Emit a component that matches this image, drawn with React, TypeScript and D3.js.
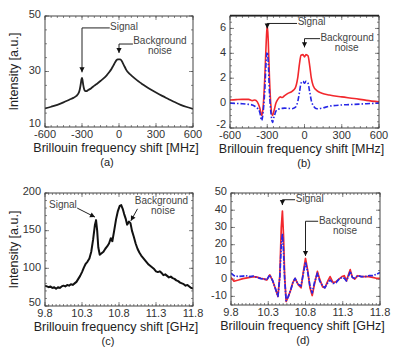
import * as d3 from "d3";

const FONT = "'Liberation Sans', Arial, Helvetica, sans-serif";

// (a) raw spectrum, MHz offset
const aFreq = [-600, -550, -500, -450, -400, -370, -345, -330, -318, -310, -304, -300, -296, -290, -283, -275, -265, -250, -225, -200, -175, -150, -125, -100, -80, -60, -45, -30, -20, -10, 0, 10, 20, 30, 45, 60, 80, 100, 125, 150, 175, 200, 250, 300, 350, 400, 450, 500, 550, 600];
const aIntensity = [16.7, 17.3, 18.0, 18.9, 19.9, 20.5, 21.2, 22.0, 23.5, 25.5, 27.2, 27.7, 27.0, 25.2, 23.7, 23.0, 22.9, 23.3, 24.0, 24.9, 25.7, 26.6, 27.5, 28.6, 29.7, 31.0, 32.2, 33.4, 34.1, 34.4, 34.4, 34.4, 34.0, 33.1, 31.8, 30.5, 29.4, 28.6, 27.6, 26.7, 25.9, 25.1, 23.7, 22.4, 21.2, 20.1, 19.0, 18.0, 17.2, 16.5];

// (b) processed spectra, MHz offset
const bFreq = [-600, -550, -500, -450, -420, -400, -380, -360, -345, -335, -320, -308, -300, -292, -282, -270, -258, -245, -230, -215, -195, -180, -160, -130, -100, -75, -55, -40, -28, -12, 0, 12, 28, 42, 55, 70, 100, 140, 200, 300, 400, 500, 600];
const bRed = [0.25, 0.28, 0.3, 0.3, 0.2, 0.25, 0.1, -0.4, -1.0, -0.5, 2.0, 5.0, 6.3, 5.0, 2.0, -0.3, -1.0, -0.6, 0.0, 0.3, 0.5, 0.45, 0.6, 0.8, 0.95, 1.2, 2.0, 3.2, 3.85, 3.9, 3.7, 3.9, 3.8, 3.0, 2.0, 1.4, 1.0, 0.8, 0.65, 0.5, 0.37, 0.22, 0.1];
const bBlue = [0.0, -0.03, -0.05, -0.1, -0.15, -0.25, -0.4, -0.75, -1.4, -0.9, 1.0, 3.5, 4.1, 3.3, 0.8, -0.8, -1.55, -1.1, -0.65, -0.5, -0.45, -0.42, -0.4, -0.42, -0.45, -0.35, 0.1, 0.9, 1.6, 1.75, 1.6, 1.75, 1.6, 0.9, 0.2, -0.2, -0.45, -0.4, -0.25, -0.15, -0.1, -0.05, 0.0];

// (c) raw spectrum, GHz
const cFreq = [9.8, 9.825, 9.85, 9.875, 9.9, 9.925, 9.95, 9.975, 10.0, 10.025, 10.05, 10.075, 10.1, 10.125, 10.15, 10.175, 10.2, 10.225, 10.25, 10.275, 10.3, 10.325, 10.35, 10.375, 10.4, 10.425, 10.45, 10.475, 10.49, 10.505, 10.52, 10.54, 10.565, 10.59, 10.615, 10.64, 10.665, 10.69, 10.71, 10.735, 10.76, 10.785, 10.81, 10.83, 10.85, 10.87, 10.89, 10.91, 10.935, 10.955, 10.975, 11.0, 11.025, 11.05, 11.075, 11.1, 11.125, 11.15, 11.175, 11.2, 11.225, 11.25, 11.275, 11.3, 11.325, 11.35, 11.375, 11.4, 11.425, 11.45, 11.475, 11.5, 11.525, 11.55, 11.575, 11.6, 11.625, 11.65, 11.675, 11.7, 11.725, 11.75, 11.775, 11.8];
const cIntensity = [77, 76, 75, 76, 74, 75, 73, 75, 74, 76, 77, 76, 78, 77, 79, 78, 80, 82, 86, 90, 95, 101, 106, 109, 113, 122, 138, 158, 164, 150, 128, 118, 120, 122, 126, 129, 133, 140, 136, 150, 165, 176, 183, 184, 179, 172, 166, 158, 162, 160, 150, 142, 133, 126, 121, 117, 114, 111, 108, 105, 103, 101, 99, 96, 95, 96, 94, 91, 92, 90, 88, 89, 87, 86, 84, 83, 81, 80, 79, 77, 78, 76, 74, 73];

// (d) processed spectra, GHz
const dFreq = [9.8, 9.84, 9.9, 9.96, 10.0, 10.05, 10.1, 10.15, 10.2, 10.25, 10.28, 10.32, 10.36, 10.4, 10.43, 10.455, 10.475, 10.49, 10.505, 10.52, 10.54, 10.57, 10.6, 10.63, 10.66, 10.7, 10.74, 10.77, 10.8, 10.83, 10.86, 10.89, 10.92, 10.96, 10.99, 11.03, 11.06, 11.1, 11.13, 11.17, 11.21, 11.25, 11.29, 11.32, 11.35, 11.38, 11.4, 11.43, 11.46, 11.5, 11.55, 11.6, 11.65, 11.7, 11.75, 11.8];
const dRed = [1.0, -1.2, -0.5, 0.3, 0.6, 1.0, 1.5, 1.2, 0.5, 0.0, -0.5, 2.5, -1.0, -6, -10, 2, 30, 39.5, 25, 2, -13, -10, -6.5, -2, 0.5, -3, -5, 4, 12, 5, -5, -9.5, -3, 4.5, 0, -4.5, -5, -1, 1.5, -2, -1.5, 0, 1.5, 2.0, -1, 3, 5.5, 1, 0, 2, 1.5, 1.5, 1.5, 1, 0.5, 0.5];
const dBlue = [3.5, 2.0, 1.5, 1.8, 2.0, 1.5, 1.8, 1.0, 0.3, 0.0, -0.5, 2.5, -1.0, -6, -10, 1, 20, 26.5, 16, 0, -12.5, -10, -6.5, -2, 0.5, -3, -4, 3, 10, 4, -4, -8, -2, 3.5, -1, -4, -5, -2, -0.5, -2.5, -2, 0, 1, 0.5, -1, 2, 4.5, 1, 0.5, 2, 1.5, 1.5, 2, 2, 2.8, 3.8];

const mhzTicks = [-600, -300, 0, 300, 600];
const ghzTicks = [9.8, 10.3, 10.8, 11.3, 11.8];
const aYTicks = [10, 30, 50];
const bYTicks = [-2, 0, 2, 4, 6];
const cYTicks = [50, 100, 150, 200];
const dYTicks = [-10, 0, 10, 20, 30, 40, 50];

const RED = "#f2282d";
const BLUE = "#2626e6";

type Series = { x: number[]; y: number[]; color: string; width: number; dash?: string; smooth?: boolean };
type Label = { t: string; x: number; y: number; anchor: "start" | "middle" | "end" };
type Note = { path: [number, number][]; texts: Label[] };

interface PanelProps {
  id: string;
  box: { left: number; right: number; top: number; bottom: number };
  xDomain: [number, number];
  yDomain: [number, number];
  xTicks: number[];
  yTicks: number[];
  xMinor: number;
  yMinor: number;
  series: Series[];
  notes: Note[];
  xTitle: string;
  label: string;
  labelX: number;
  yTitle?: boolean;
  thickTop?: boolean;
}

function Panel(p: PanelProps) {
  const { box } = p;
  const x = d3.scaleLinear().domain(p.xDomain).range([box.left, box.right]);
  const y = d3.scaleLinear().domain(p.yDomain).range([box.bottom, box.top]);

  const nx = Math.round((p.xDomain[1] - p.xDomain[0]) / p.xMinor);
  const ny = Math.round((p.yDomain[1] - p.yDomain[0]) / p.yMinor);
  const minorX = d3.range(nx + 1).map((i) => p.xDomain[0] + i * p.xMinor);
  const minorY = d3.range(ny + 1).map((i) => p.yDomain[0] + i * p.yMinor);

  const fmt = (v: number) => (Number.isInteger(v) ? String(v) : v.toFixed(1));

  return (
    <g fontFamily={FONT}>
      <defs>
        <clipPath id={`clip-${p.id}`}>
          <rect x={box.left} y={box.top} width={box.right - box.left} height={box.bottom - box.top} />
        </clipPath>
      </defs>

      {/* minor ticks, inward on all sides */}
      <g stroke="#555" strokeWidth={0.7}>
        {minorX.map((v, i) => (
          <g key={`mx${i}`}>
            <line x1={x(v)} x2={x(v)} y1={box.bottom} y2={box.bottom - 2} />
            <line x1={x(v)} x2={x(v)} y1={box.top} y2={box.top + 2} />
          </g>
        ))}
        {minorY.map((v, i) => (
          <g key={`my${i}`}>
            <line y1={y(v)} y2={y(v)} x1={box.left} x2={box.left + 2} />
            <line y1={y(v)} y2={y(v)} x1={box.right} x2={box.right - 2} />
          </g>
        ))}
        {p.xTicks.map((v, i) => (
          <g key={`tx${i}`}>
            <line x1={x(v)} x2={x(v)} y1={box.bottom} y2={box.bottom - 4} />
            <line x1={x(v)} x2={x(v)} y1={box.top} y2={box.top + 4} />
          </g>
        ))}
        {p.yTicks.map((v, i) => (
          <g key={`ty${i}`}>
            <line y1={y(v)} y2={y(v)} x1={box.left} x2={box.left + 4} />
            <line y1={y(v)} y2={y(v)} x1={box.right} x2={box.right - 4} />
          </g>
        ))}
      </g>

      <g clipPath={`url(#clip-${p.id})`}>
        {p.series.map((s, i) => {
          const line = d3
            .line<number>()
            .x((_, j) => x(s.x[j]))
            .y((d) => y(d))
            .curve(s.smooth ? d3.curveMonotoneX : d3.curveLinear);
          return (
            <path
              key={i}
              d={line(s.y) ?? ""}
              fill="none"
              stroke={s.color}
              strokeWidth={s.width}
              strokeDasharray={s.dash}
              strokeLinejoin="round"
            />
          );
        })}
      </g>

      <rect
        x={box.left}
        y={box.top}
        width={box.right - box.left}
        height={box.bottom - box.top}
        fill="none"
        stroke="#444"
        strokeWidth={1}
      />
      {p.thickTop && (
        <line x1={box.left} x2={box.right} y1={box.top - 0.5} y2={box.top - 0.5} stroke="#222" strokeWidth={1.6} />
      )}

      {/* annotations */}
      {p.notes.map((n, i) => {
        const pts = n.path.map(([a, b]) => [x(a), y(b)] as [number, number]);
        const tip = pts[pts.length - 1];
        const prev = pts[pts.length - 2];
        const ang = Math.atan2(tip[1] - prev[1], tip[0] - prev[0]);
        const L = 5;
        const W = 2.6;
        const bx = tip[0] - L * Math.cos(ang);
        const by = tip[1] - L * Math.sin(ang);
        const head = [
          tip,
          [bx + W * Math.sin(ang), by - W * Math.cos(ang)],
          [bx - W * Math.sin(ang), by + W * Math.cos(ang)],
        ];
        return (
          <g key={`n${i}`}>
            <path d={d3.line()(pts) ?? ""} fill="none" stroke="#222" strokeWidth={1} />
            <path d={`M${head.map((q) => q.join(",")).join("L")}Z`} fill="#111" />
            {n.texts.map((t, k) => (
              <text
                key={k}
                x={x(t.x)}
                y={y(t.y)}
                textAnchor={t.anchor}
                dominantBaseline="middle"
                fontSize={10}
                fill="#444"
              >
                {t.t}
              </text>
            ))}
          </g>
        );
      })}

      {/* tick labels; the lowest y label sits a little higher so it clears the x labels */}
      <g fontSize={11} fill="#333">
        {p.xTicks.map((v, i) => (
          <text key={`lx${i}`} x={x(v)} y={box.bottom + 8.5} textAnchor="middle" dominantBaseline="middle">
            {fmt(v)}
          </text>
        ))}
        {p.yTicks.map((v, i) => (
          <text
            key={`ly${i}`}
            x={box.left - 4}
            y={y(v) - (box.bottom - y(v) < 3 ? 2.5 : 0.5)}
            textAnchor="end"
            dominantBaseline="middle"
          >
            {fmt(v)}
          </text>
        ))}
      </g>

      <text
        x={(box.left + box.right) / 2 - 3}
        y={box.bottom + 21.5}
        textAnchor="middle"
        dominantBaseline="middle"
        fontSize={12.5}
        fill="#222"
      >
        {p.xTitle}
      </text>
      {p.yTitle && (
        <text
          transform={`translate(15,${(box.top + box.bottom) / 2}) rotate(-90)`}
          textAnchor="middle"
          dominantBaseline="middle"
          fontSize={12.5}
          fill="#222"
        >
          Intensity [a.u.]
        </text>
      )}
      <text x={p.labelX} y={box.bottom + 36} textAnchor="middle" dominantBaseline="middle" fontSize={11} fill="#222">
        {p.label}
      </text>
    </g>
  );
}

export default function App() {
  return (
    <svg
      width={393}
      height={356}
      style={{ position: "absolute", left: 0, top: 0, background: "#fff" }}
    >
      <Panel
        id="a"
        box={{ left: 45, right: 193, top: 16, bottom: 127 }}
        xDomain={[-600, 600]}
        yDomain={[10, 50]}
        xTicks={mhzTicks}
        yTicks={aYTicks}
        xMinor={50}
        yMinor={5}
        series={[{ x: aFreq, y: aIntensity, color: "#222", width: 1.8, smooth: true }]}
        notes={[
          {
            path: [[-75, 45.7], [-300, 45.7], [-300, 29.7]],
            texts: [{ t: "Signal", x: -72, y: 45.9, anchor: "start" }],
          },
          {
            path: [[113, 39.9], [0, 39.9], [0, 36.7]],
            texts: [
              { t: "Background", x: 115, y: 41, anchor: "start" },
              { t: "noise", x: 332, y: 37.4, anchor: "middle" },
            ],
          },
        ]}
        xTitle="Brillouin frequency shift [MHz]"
        label="(a)"
        labelX={107}
        yTitle
      />
      <Panel
        id="b"
        box={{ left: 230, right: 379, top: 16, bottom: 128 }}
        xDomain={[-600, 600]}
        yDomain={[-2, 7]}
        xTicks={mhzTicks}
        yTicks={bYTicks}
        xMinor={50}
        yMinor={0.5}
        series={[
          { x: bFreq, y: bRed, color: RED, width: 1.6, smooth: true },
          { x: bFreq, y: bBlue, color: BLUE, width: 1.6, dash: "5,2,1.5,2", smooth: true },
        ]}
        notes={[
          {
            path: [[-60, 6.4], [-300, 6.4], [-300, 6.0]],
            texts: [{ t: "Signal", x: -55, y: 6.45, anchor: "start" }],
          },
          {
            path: [[125, 5.18], [0, 5.18], [0, 4.48]],
            texts: [
              { t: "Background", x: 128, y: 5.2, anchor: "start" },
              { t: "noise", x: 340, y: 4.4, anchor: "middle" },
            ],
          },
        ]}
        xTitle="Brillouin frequency shift [MHz]"
        label="(b)"
        labelX={304}
        thickTop
      />
      <Panel
        id="c"
        box={{ left: 45, right: 193, top: 193, bottom: 306 }}
        xDomain={[9.8, 11.8]}
        yDomain={[50, 200]}
        xTicks={ghzTicks}
        yTicks={cYTicks}
        xMinor={0.05}
        yMinor={10}
        series={[{ x: cFreq, y: cIntensity, color: "#111", width: 2 }]}
        notes={[
          {
            path: [[10.235, 180], [10.475, 168]],
            texts: [{ t: "Signal", x: 10.23, y: 184, anchor: "end" }],
          },
          {
            path: [[11.05, 179], [10.96, 163]],
            texts: [
              { t: "Background", x: 11.374, y: 189.5, anchor: "middle" },
              { t: "noise", x: 11.395, y: 175, anchor: "middle" },
            ],
          },
        ]}
        xTitle="Brillouin frequency shift [GHz]"
        label="(c)"
        labelX={108}
        yTitle
      />
      <Panel
        id="d"
        box={{ left: 231, right: 380, top: 193, bottom: 305 }}
        xDomain={[9.8, 11.8]}
        yDomain={[-15, 50]}
        xTicks={ghzTicks}
        yTicks={dYTicks}
        xMinor={0.05}
        yMinor={5}
        series={[
          { x: dFreq, y: dRed, color: RED, width: 1.7 },
          { x: dFreq, y: dBlue, color: BLUE, width: 1.7, dash: "5,1.5,1.5,1.5" },
        ]}
        notes={[
          {
            path: [[10.66, 46.1], [10.49, 46.1], [10.49, 43]],
            texts: [{ t: "Signal", x: 10.67, y: 46.1, anchor: "start" }],
          },
          {
            path: [[10.97, 33.6], [10.8, 33.6], [10.8, 13.5]],
            texts: [
              { t: "Background", x: 10.98, y: 33.6, anchor: "start" },
              { t: "noise", x: 11.33, y: 27.8, anchor: "middle" },
            ],
          },
        ]}
        xTitle="Brillouin frequency shift [GHz]"
        label="(d)"
        labelX={303}
      />
    </svg>
  );
}
